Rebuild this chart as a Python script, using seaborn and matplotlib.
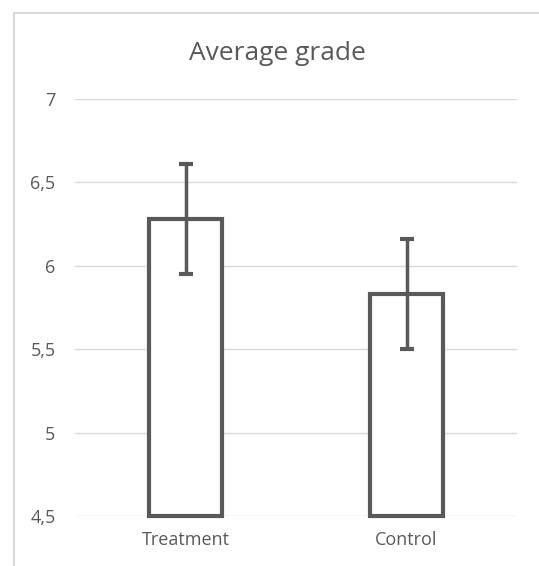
import numpy as np
import pandas as pd
import matplotlib
matplotlib.use('Agg')
import matplotlib.pyplot as plt
import seaborn as sns
from matplotlib.lines import Line2D
from matplotlib.ticker import FuncFormatter

groups = ['Treatment', 'Control']
means = [6.28, 5.83]
errors = [0.33, 0.33]
y_ticks = [4.5, 5, 5.5, 6, 6.5, 7]

df = pd.DataFrame({'group': groups, 'grade': means})

sns.set_style('white')
plt.rcParams['font.family'] = ['Open Sans', 'DejaVu Sans']

grey = '#595959'
fig = plt.figure(figsize=(5.39, 5.66), dpi=100)
ax = fig.add_axes([75/539, 1 - 516/566, 442/539, 417/566])

sns.barplot(data=df, x='group', y='grade', ax=ax, errorbar=None,
            color='white', edgecolor=grey, linewidth=3, width=0.33)

# excel draws the bar from the axis minimum
for p in ax.patches:
    top = p.get_y() + p.get_height()
    p.set_y(y_ticks[0])
    p.set_height(top - y_ticks[0])
    p.set_clip_on(False)

ax.errorbar(x=np.arange(len(groups)), y=means, yerr=errors, fmt='none',
            ecolor=grey, elinewidth=2.5, capsize=5, capthick=3, zorder=5)

ax.set_ylim(y_ticks[0], y_ticks[-1])
ax.set_yticks(y_ticks)
ax.yaxis.set_major_formatter(FuncFormatter(lambda v, pos: f'{v:g}'.replace('.', ',')))
ax.set_xlim(-0.5, 1.5)
ax.grid(axis='y', color='#d9d9d9', linewidth=1)
ax.set_axisbelow(True)
sns.despine(ax=ax, left=True, bottom=True)
ax.set_xlabel('')
ax.set_ylabel('')
ax.tick_params(axis='y', length=0, pad=14, labelsize=13, labelcolor=grey)
ax.tick_params(axis='x', length=0, pad=11, labelsize=13, labelcolor=grey)

fig.text(277/539, 1 - 54/566, 'Average grade', ha='center', va='center',
         fontsize=19, color=grey)

# chart frame (left and top edges visible)
fig.add_artist(Line2D([14/539, 14/539], [0, 1 - 13/566], transform=fig.transFigure,
                      color='#d9d9d9', linewidth=1.5))
fig.add_artist(Line2D([14/539, 1], [1 - 13/566, 1 - 13/566], transform=fig.transFigure,
                      color='#d9d9d9', linewidth=1.5))

fig.savefig('out.png', dpi=100, facecolor='white')
